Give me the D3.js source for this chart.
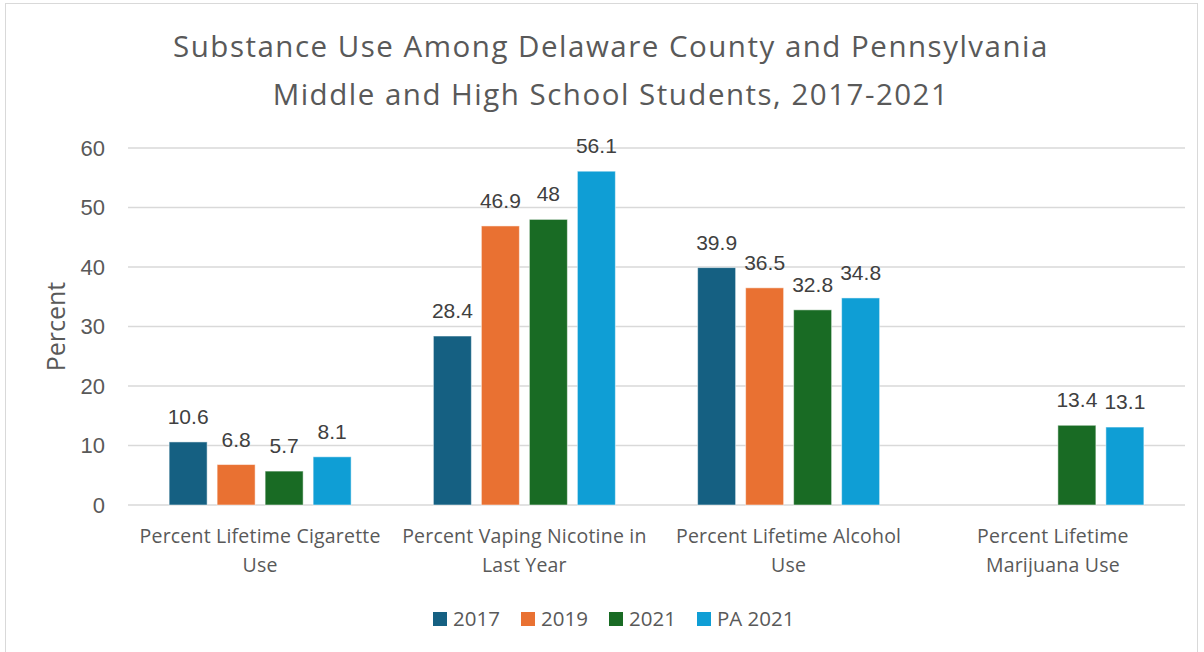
<!DOCTYPE html>
<html><head><meta charset="utf-8">
<script src="https://cdn.jsdelivr.net/npm/d3@7"></script>
<style>body{margin:0;background:#fff}</style>
</head><body>
<svg id="chart" width="1204" height="652"></svg>
<script>
const categories = [["Percent Lifetime Cigarette","Use"],["Percent Vaping Nicotine in","Last Year"],["Percent Lifetime Alcohol","Use"],["Percent Lifetime","Marijuana Use"]];
const seriesNames = ["2017","2019","2021","PA 2021"];
const s2017 = [10.6, 28.4, 39.9, null];
const s2019 = [6.8, 46.9, 36.5, null];
const s2021 = [5.7, 48, 32.8, 13.4];
const sPA2021 = [8.1, 56.1, 34.8, 13.1];
const colors = ["#156082","#E97132","#196B24","#0F9ED5"];
const yTicks = [0,10,20,30,40,50,60];

(function(){
const series = [s2017, s2019, s2021, sPA2021];
const svg = d3.select("#chart");
const textColor = "#595959";
const numFont = "'Liberation Sans', Arial, sans-serif";
const txtFont = "'Open Sans', 'Noto Sans', sans-serif";

svg.append("rect").attr("x",5.5).attr("y",3.5).attr("width",1192).attr("height",660)
  .attr("fill","#fff").attr("stroke","#d9d9d9");

const pL=128, pR=1185, pT=148, pB=505;
const x = d3.scaleBand().domain(d3.range(categories.length)).range([pL,pR]).padding(0);
const y = d3.scaleLinear().domain([0,60]).range([pB,pT]);
const barW = 38, gap = 10;
const groupW = series.length*(barW+gap)-gap;
const inner = d3.scaleBand().domain(d3.range(series.length)).range([0, groupW]).paddingInner(gap/(barW+gap)).paddingOuter(0);

svg.append("g").selectAll("line").data(yTicks).join("line")
  .attr("x1",pL).attr("x2",pR).attr("y1",d=>y(d)).attr("y2",d=>y(d))
  .attr("stroke","#d9d9d9").attr("stroke-width",1.3);

svg.append("g").selectAll("text").data(yTicks).join("text")
  .attr("x",105).attr("y",d=>y(d)).attr("dy","0.36em").attr("text-anchor","end")
  .attr("font-family",numFont).attr("font-size",22).attr("fill",textColor).text(d=>d);

svg.append("text").attr("transform",`translate(65,${(pT+pB)/2}) rotate(-90)`)
  .attr("text-anchor","middle").attr("font-family",txtFont).attr("font-size",25).attr("fill",textColor).text("Percent");

series.forEach((s,si)=>{
  const g = svg.append("g");
  const data = s.map((v,ci)=>({v,ci})).filter(d=>d.v!==null);
  g.selectAll("rect").data(data).join("rect")
    .attr("x",d=>x(d.ci)+x.bandwidth()/2-groupW/2+inner(si))
    .attr("y",d=>y(d.v)).attr("width",inner.bandwidth()).attr("height",d=>y(0)-y(d.v))
    .attr("fill",colors[si]).attr("stroke","#ffffff").attr("stroke-opacity",0.5).attr("stroke-width",1);
  g.selectAll("text").data(data).join("text")
    .attr("x",d=>x(d.ci)+x.bandwidth()/2-groupW/2+inner(si)+inner.bandwidth()/2)
    .attr("y",d=>y(d.v)-18).attr("text-anchor","middle")
    .attr("font-family",numFont).attr("font-size",21).attr("fill","#404040").text(d=>d.v);
});

categories.forEach((lines,ci)=>{
  const t = svg.append("text").attr("text-anchor","middle").attr("font-family",txtFont)
    .attr("font-size",19.5).attr("letter-spacing",0.2).attr("fill",textColor);
  lines.forEach((ln,li)=>{
    t.append("tspan").attr("x",x(ci)+x.bandwidth()/2).attr("y",543+li*29).text(ln);
  });
});

const title = svg.append("text").attr("text-anchor","middle").attr("font-family",txtFont)
  .attr("font-size",29.5).attr("letter-spacing",1.5).attr("fill",textColor);
["Substance Use Among Delaware County and Pennsylvania","Middle and High School Students, 2017-2021"].forEach((ln,i)=>{
  title.append("tspan").attr("x",611).attr("y",57+i*48).text(ln);
});

const legendX = [433, 521, 609, 697];
const lg = svg.append("g");
seriesNames.forEach((n,i)=>{
  lg.append("rect").attr("x",legendX[i]).attr("y",612).attr("width",14).attr("height",14).attr("fill",colors[i]);
  lg.append("text").attr("x",legendX[i]+20).attr("y",626).attr("font-family",txtFont)
    .attr("font-size",20.5).attr("fill",textColor).text(n);
});
})();
</script>
</body></html>
